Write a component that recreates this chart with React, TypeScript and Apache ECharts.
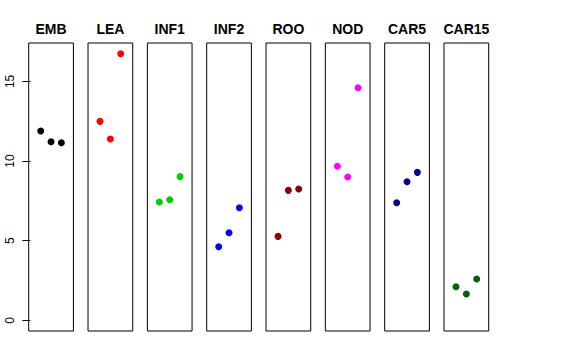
import React, { useEffect, useRef } from "react";
import * as echarts from "echarts";

const categories = ["EMB", "LEA", "INF1", "INF2", "ROO", "NOD", "CAR5", "CAR15"];
const positions = [1, 2, 3];
const embValues = [11.88, 11.21, 11.15];
const leaValues = [12.49, 11.38, 16.74];
const inf1Values = [7.43, 7.57, 9.02];
const inf2Values = [4.62, 5.5, 7.07];
const rooValues = [5.27, 8.16, 8.24];
const nodValues = [9.67, 9.0, 14.6];
const car5Values = [7.38, 8.7, 9.29];
const car15Values = [2.11, 1.65, 2.59];
const panelValues = [embValues, leaValues, inf1Values, inf2Values, rooValues, nodValues, car5Values, car15Values];
const colors = ["#000000", "#FF0000", "#00CD00", "#0000FF", "#8B0000", "#FF00FF", "#000080", "#006400"];
const yTicks = [0, 5, 10, 15];

const FONT = "'Liberation Sans', Arial, Helvetica, sans-serif";

export default function App() {
  const ref = useRef<HTMLDivElement>(null);
  useEffect(() => {
    if (!ref.current) return;
    const chart = echarts.init(ref.current, null, { renderer: "svg" });
    const yMax = 16.74;
    const yPad = yMax * 0.04;
    const left0 = 28.7;
    const step = 59.33;
    const w = 44.7;
    const top = 43;
    const h = 288;
    const grids = categories.map((_, i) => ({
      left: left0 + i * step,
      top,
      width: w,
      height: h,
      show: true,
      borderColor: "#000",
      borderWidth: 1,
      backgroundColor: "transparent",
    }));
    const xAxes = categories.map((_, i) => ({
      type: "value",
      gridIndex: i,
      min: -0.16,
      max: 4.16,
      show: false,
    }));
    const yAxes = categories.map((_, i) => ({
      type: "value",
      gridIndex: i,
      min: -yPad,
      max: yMax + yPad,
      show: i === 0,
      splitLine: { show: false },
      axisLine: { show: false },
      axisTick: {
        show: i === 0,
        customValues: yTicks,
        length: 8,
        lineStyle: { color: "#000", width: 1 },
      },
      axisLabel: {
        show: i === 0,
        customValues: yTicks,
        rotate: 90,
        margin: 13,
        color: "#000",
        fontSize: 12,
        fontFamily: FONT,
      },
    }));
    const series = categories.map((_, i) => ({
      type: "scatter",
      xAxisIndex: i,
      yAxisIndex: i,
      symbol: "circle",
      symbolSize: 7,
      itemStyle: { color: colors[i], opacity: 1 },
      emphasis: { disabled: true },
      data: positions.map((p, j) => [p, panelValues[i][j]]),
    }));
    const graphic = categories.map((c, i) => ({
      type: "text",
      x: left0 + i * step + w / 2,
      y: 29,
      style: {
        text: c,
        textAlign: "center",
        textVerticalAlign: "middle",
        fill: "#000",
        font: `bold 14px ${FONT}`,
      },
    }));
    chart.setOption({
      animation: false,
      backgroundColor: "#fff",
      grid: grids,
      xAxis: xAxes,
      yAxis: yAxes,
      series,
      graphic,
    } as any);
    return () => chart.dispose();
  }, []);
  return (
    <div
      ref={ref}
      style={{ position: "fixed", left: 0, top: 0, width: 576, height: 360 }}
    />
  );
}
